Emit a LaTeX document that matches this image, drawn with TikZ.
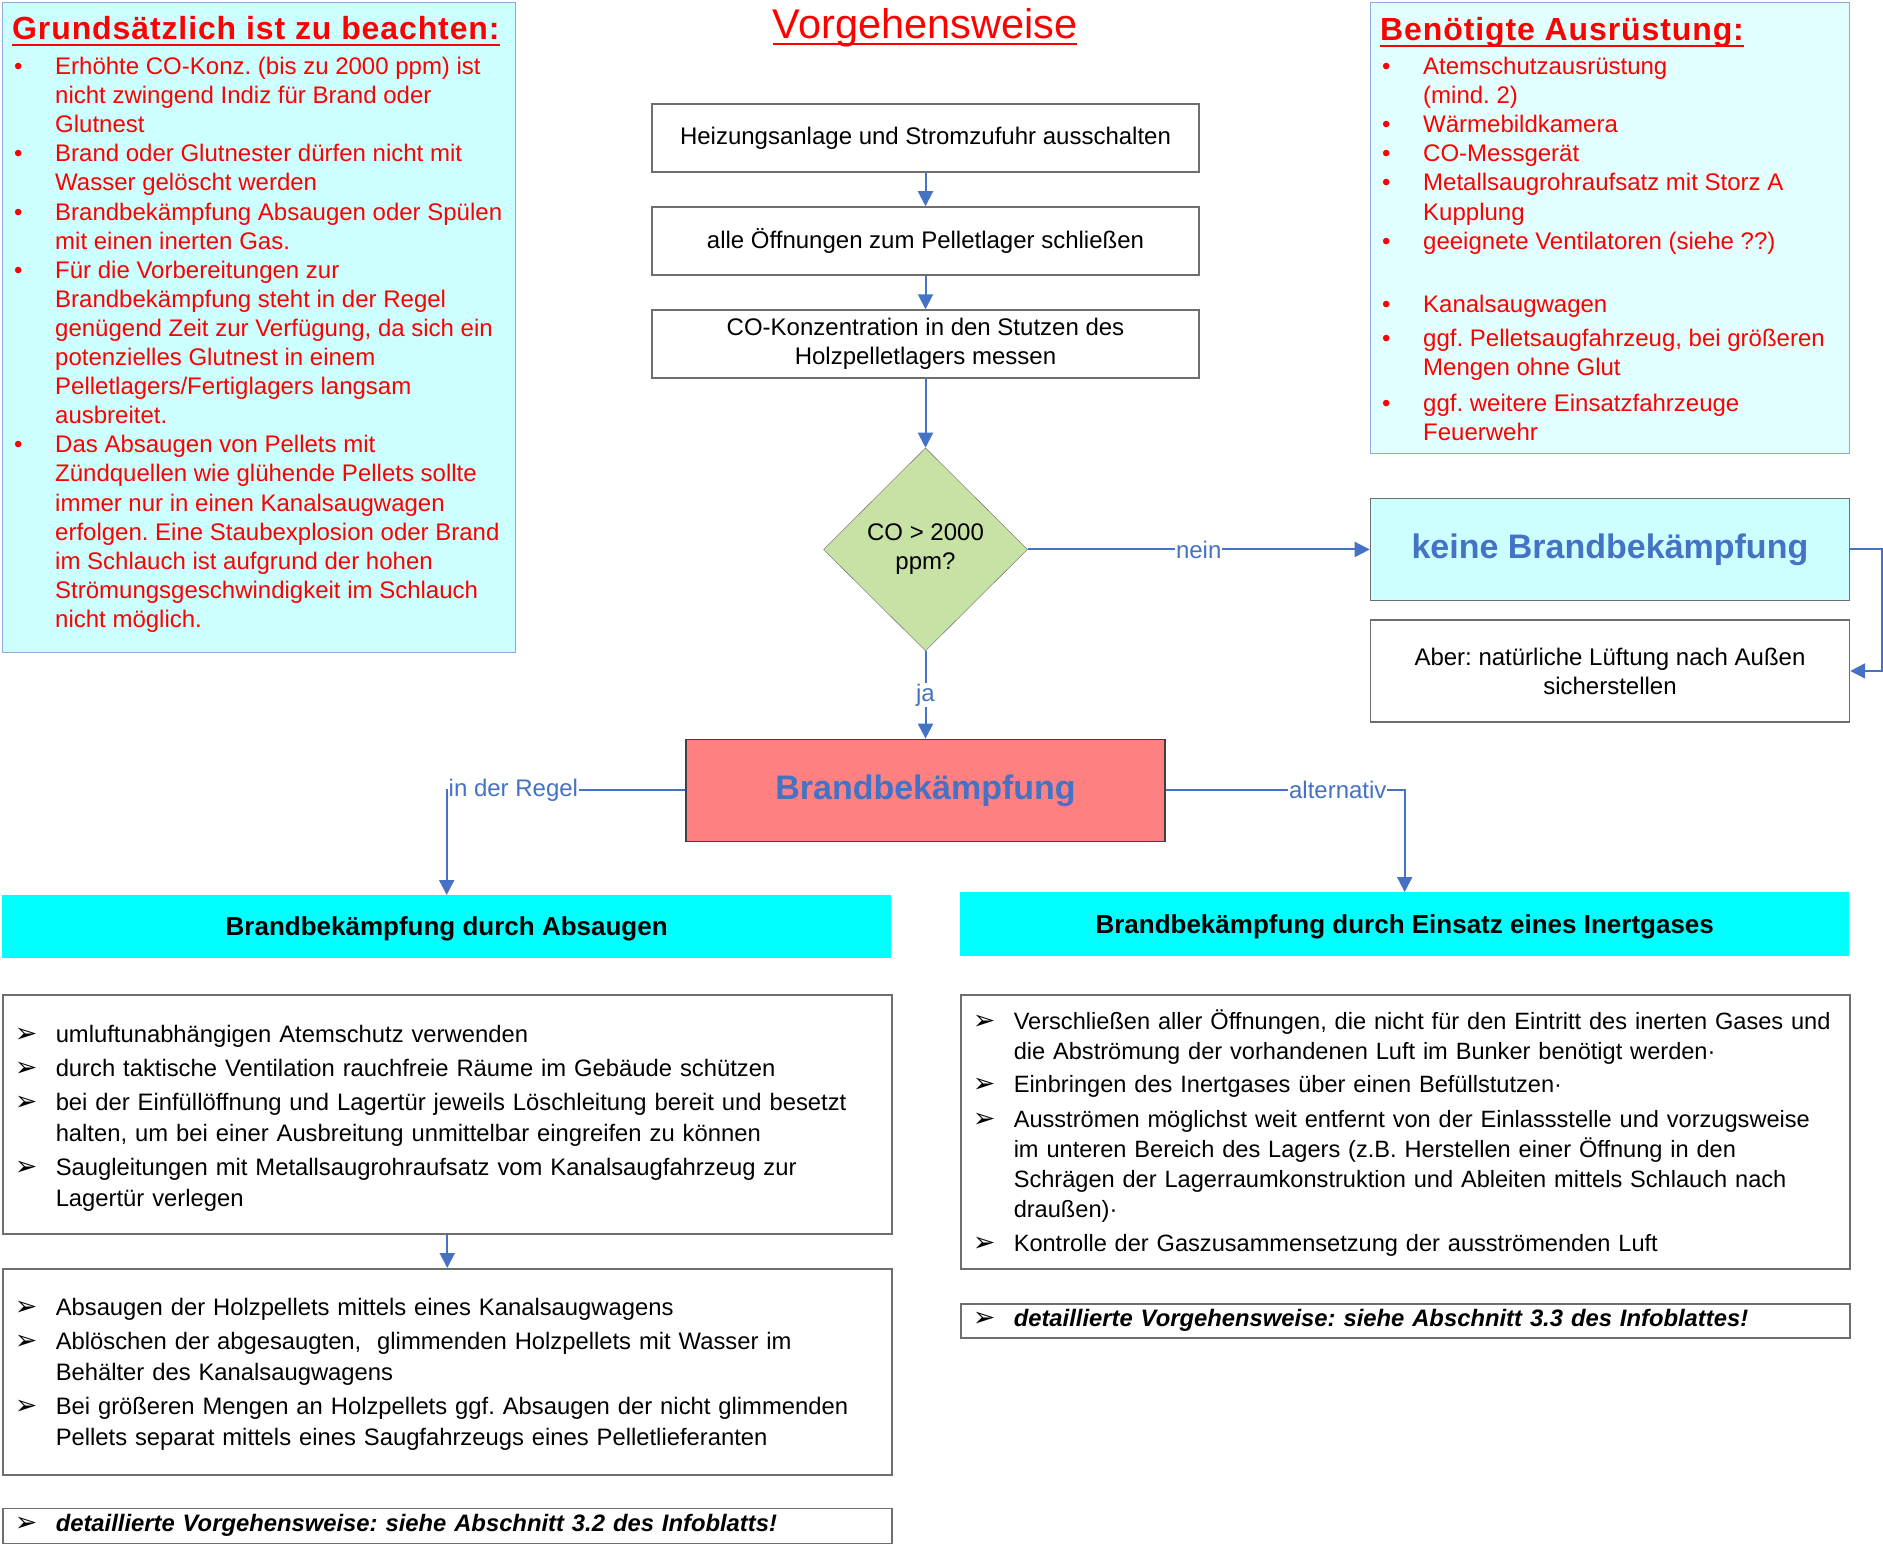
\documentclass[tikz,border=0pt]{standalone}
\usepackage{fontspec}
\setmainfont{Liberation Sans}
\newfontfamily\arrowfont{DejaVu Sans}
\usetikzlibrary{arrows.meta,positioning,shapes.geometric}
\frenchspacing

\definecolor{linkblue}{RGB}{68,114,196}
\definecolor{boxgray}{RGB}{110,110,110}
\definecolor{notecyan}{RGB}{204,255,255}
\definecolor{notecyanlight}{RGB}{225,255,255}
\definecolor{notefr}{RGB}{142,169,219}
\definecolor{headcyan}{RGB}{0,255,255}
\definecolor{decgreen}{RGB}{200,226,165}
\definecolor{firered}{RGB}{255,128,128}

\newcommand{\redbul}{\makebox[41pt][l]{\textbullet}}
\newcommand{\redind}{\hspace*{41pt}}
\newcommand{\arrbul}{\makebox[41pt][l]{\arrowfont\fontsize{27}{31}\selectfont ➢}}
\newcommand{\arrind}{\hspace*{41pt}}
\newcommand{\topstrut}[1][26pt]{\rule{0pt}{#1}}
\newcommand{\ultext}[1]{\setbox0\hbox{#1}\rlap{\vrule height -4pt depth 6.5pt width \wd0}\box0}

\begin{document}
\begin{tikzpicture}[
            x=1pt, y=-1pt,
            flowbox/.style={
                draw=boxgray,
                line width=1.5pt,
                fill=white,
                minimum width=547pt,
                minimum height=68pt,
                inner sep=0pt,
                align=center,
                font=\fontsize{24}{29}\selectfont
            },
            decision/.style={
                diamond,
                aspect=1,
                draw=black!60,
                fill=decgreen,
                minimum width=204pt,
                minimum height=203pt,
                inner sep=0pt,
                align=center,
                font=\fontsize{24}{29}\selectfont
            },
            bigbox/.style={
                draw=boxgray,
                line width=1.5pt,
                minimum width=479pt,
                minimum height=102pt,
                inner sep=0pt,
                align=center
            },
            header/.style={
                fill=headcyan,
                minimum width=889pt,
                minimum height=63pt,
                inner sep=0pt,
                font=\fontsize{26}{30}\selectfont\bfseries
            },
            listbox/.style={
                draw=boxgray,
                line width=1.5pt,
                minimum width=889pt,
                text width=865pt,
                inner xsep=12pt,
                inner ysep=0pt,
                align=left,
                font=\fontsize{23.8}{31}\selectfont
            },
            notebox/.style={
                draw=notefr,
                line width=1.2pt,
                inner sep=0pt
            },
            notetitle/.style={
                inner sep=0pt,
                text=red,
                font=\fontsize{32}{36}\selectfont\bfseries\addfontfeature{LetterSpace=2.8}
            },
            notelist/.style={
                inner sep=0pt,
                align=left,
                text=red,
                font=\fontsize{24}{29.1}\selectfont
            },
            conn/.style={
                draw=linkblue,
                line width=2pt,
                -{Triangle[length=15pt,width=15pt]}
            },
            lbl/.style={
                fill=white,
                text=linkblue,
                inner sep=1pt,
                font=\fontsize{24}{28}\selectfont
            },
            node distance=33.5pt
        ]

            \useasboundingbox (0,0) rectangle (1883,1544);

            % --- Notes left ---
            \node[notebox, fill=notecyan, minimum width=513pt, minimum height=650pt,
                anchor=north west] (grundbox) at (2,2) {};
            \node[notetitle, anchor=base west] (grundtitle) at (12,40)
                {\ultext{Grundsätzlich ist zu beachten:}};
            \node[notelist, anchor=north west] (grundlist) at (14,54) {%
                \strut\redbul Erhöhte CO-Konz. (bis zu 2000 ppm) ist\\
                \redind nicht zwingend Indiz für Brand oder\\
                \redind Glutnest\\
                \redbul Brand oder Glutnester dürfen nicht mit\\
                \redind Wasser gelöscht werden\\
                \redbul Brandbekämpfung Absaugen oder Spülen\\
                \redind mit einen inerten Gas.\\
                \redbul Für die Vorbereitungen zur\\
                \redind Brandbekämpfung steht in der Regel\\
                \redind genügend Zeit zur Verfügung, da sich ein\\
                \redind potenzielles Glutnest in einem\\
                \redind Pelletlagers/Fertiglagers langsam\\
                \redind ausbreitet.\\
                \redbul Das Absaugen von Pellets mit\\
                \redind Zündquellen wie glühende Pellets sollte\\
                \redind immer nur in einen Kanalsaugwagen\\
                \redind erfolgen. Eine Staubexplosion oder Brand\\
                \redind im Schlauch ist aufgrund der hohen\\
                \redind Strömungsgeschwindigkeit im Schlauch\\
                \redind nicht möglich.};

            % --- Notes right ---
            \node[notebox, fill=notecyanlight, minimum width=479pt, minimum height=451pt,
                anchor=north west] (ausrbox) at (1370,2) {};
            \node[notetitle, anchor=base west] (ausrtitle) at (1380,41)
                {\ultext{Benötigte Ausrüstung:}};
            \node[notelist, anchor=north west] (ausrlist) at (1382,54) {%
                \strut\redbul Atemschutzausrüstung\\
                \redind (mind. 2)\\
                \redbul Wärmebildkamera\\
                \redbul CO-Messgerät\\
                \redbul Metallsaugrohraufsatz mit Storz A\\
                \redind Kupplung\\
                \redbul geeignete Ventilatoren (siehe ??)\\[34pt]
                \redbul Kanalsaugwagen\\[5pt]
                \redbul ggf. Pelletsaugfahrzeug, bei größeren\\
                \redind Mengen ohne Glut\\[7pt]
                \redbul ggf. weitere Einsatzfahrzeuge\\
                \redind Feuerwehr};

            % --- Main flow ---
            \node[text=red, font=\fontsize{41.5}{46}\selectfont] (vtitle) at (925,28)
                {\ultext{Vorgehensweise}};
            \node[flowbox] (heiz) at (925.5,138) {Heizungsanlage und Stromzufuhr ausschalten};
            \node[flowbox, below=of heiz] (oeff) {alle Öffnungen zum Pelletlager schließen};
            \node[flowbox, below=of oeff] (comess)
                {CO-Konzentration in den Stutzen des\\Holzpelletlagers messen};
            \node[decision, below=69pt of comess] (codec) {CO > 2000\\ppm?};
            \node[bigbox, fill=firered, draw=black!75, below=87.5pt of codec, text=linkblue,
                font=\fontsize{34}{40}\selectfont\bfseries] (brand) {Brandbekämpfung};

            % --- No fire branch ---
            \node[bigbox, fill=notecyan, right=342pt of codec, text=linkblue,
                font=\fontsize{34}{40}\selectfont\bfseries] (keine) {keine Brandbekämpfung};
            \node[bigbox, fill=white, below=18pt of keine,
                font=\fontsize{24}{29}\selectfont] (aber)
                {Aber: natürliche Lüftung nach Außen\\sicherstellen};

            % --- Fire fighting headers ---
            \node[header, anchor=north west] (absaug) at (2,895)
                {\rule{0pt}{24pt}Brandbekämpfung durch Absaugen};
            \node[header, minimum height=64pt, anchor=north west] (inert) at (960,892)
                {\rule{0pt}{24pt}Brandbekämpfung durch Einsatz eines Inertgases};

            % --- Absaugen lists ---
            \node[listbox, minimum height=239pt, anchor=north west] (absaugA) at (2,994) {%
                \topstrut\arrbul umluftunabhängigen Atemschutz verwenden\\[3pt]
                \arrbul durch taktische Ventilation rauchfreie Räume im Gebäude schützen\\[3pt]
                \arrbul bei der Einfüllöffnung und Lagertür jeweils Löschleitung bereit und besetzt\\
                \arrind halten, um bei einer Ausbreitung unmittelbar eingreifen zu können\\[3pt]
                \arrbul Saugleitungen mit Metallsaugrohraufsatz vom Kanalsaugfahrzeug zur\\
                \arrind Lagertür verlegen};
            \node[listbox, minimum height=206pt, below=of absaugA] (absaugB) {%
                \topstrut[22pt]\arrbul Absaugen der Holzpellets mittels eines Kanalsaugwagens\\[3pt]
                \arrbul Ablöschen der abgesaugten,~ glimmenden Holzpellets mit Wasser im\\
                \arrind Behälter des Kanalsaugwagens\\[3pt]
                \arrbul Bei größeren Mengen an Holzpellets ggf. Absaugen der nicht glimmenden\\
                \arrind Pellets separat mittels eines Saugfahrzeugs eines Pelletlieferanten};
            \node[listbox, minimum height=35pt, below=32pt of absaugB] (absaugInfo)
                {\arrbul\bfseries\itshape detaillierte Vorgehensweise: siehe Abschnitt 3.2 des Infoblatts!};

            % --- Inertgas lists ---
            \node[listbox, minimum height=274pt, anchor=north west,
                font=\fontsize{23.6}{30}\selectfont] (inertA) at (960,994) {%
                \topstrut[22pt]\arrbul Verschließen aller Öffnungen, die nicht für den Eintritt des inerten Gases und\\
                \arrind die Abströmung der vorhandenen Luft im Bunker benötigt werden·\\[3pt]
                \arrbul Einbringen des Inertgases über einen Befüllstutzen·\\[5pt]
                \arrbul Ausströmen möglichst weit entfernt von der Einlassstelle und vorzugsweise\\
                \arrind im unteren Bereich des Lagers (z.B. Herstellen einer Öffnung in den\\
                \arrind Schrägen der Lagerraumkonstruktion und Ableiten mittels Schlauch nach\\
                \arrind draußen)·\\[4pt]
                \arrbul Kontrolle der Gaszusammensetzung der ausströmenden Luft};
            \node[listbox, minimum height=34pt, below=of inertA] (inertInfo)
                {\arrbul\bfseries\itshape detaillierte Vorgehensweise: siehe Abschnitt 3.3 des Infoblattes!};

            % --- Connectors ---
            \draw[conn] (heiz) -- (oeff);
            \draw[conn] (oeff) -- (comess);
            \draw[conn] (comess) -- (codec);
            \draw[conn] (codec) -- node[lbl] {nein} (keine);
            \draw[conn] (codec) -- node[lbl] {ja} (brand);
            \draw[conn] (keine.east) -- ++(32,0) |- (aber.east);
            \draw[conn] (brand.west) -| node[lbl, pos=0.5, anchor=west] {in der Regel} (absaug.north);
            \draw[conn] (brand.east) -| node[lbl, pos=0.36] {alternativ} (inert.north);
            \draw[conn] (absaugA) -- (absaugB);
        \end{tikzpicture}
\end{document}
